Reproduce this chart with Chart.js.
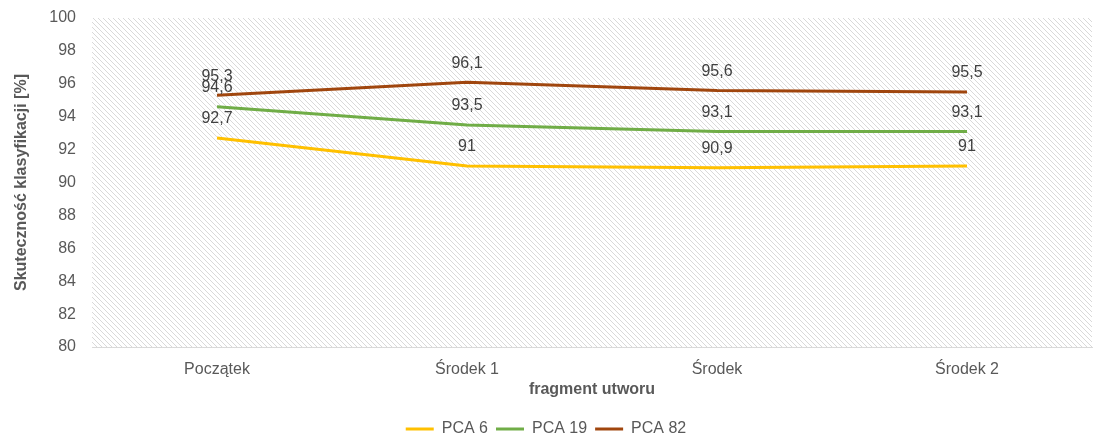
<!DOCTYPE html>
<html>
<head>
<meta charset="utf-8">
<script src="https://cdn.jsdelivr.net/npm/chart.js@4/dist/chart.umd.min.js"></script>
<style>
  html, body { margin: 0; padding: 0; background: #fff; }
  #wrap { width: 1096px; height: 434px; }
</style>
</head>
<body>
<div id="wrap"><canvas id="pcaChart"></canvas></div>
<script>
const fragments = ['Początek', 'Środek 1', 'Środek', 'Środek 2'];
const pca6 = [92.7, 91, 90.9, 91];
const pca19 = [94.6, 93.5, 93.1, 93.1];
const pca82 = [95.3, 96.1, 95.6, 95.5];
const yTicks = [80, 82, 84, 86, 88, 90, 92, 94, 96, 98, 100];

const FONT = '"Liberation Sans", Arial, sans-serif';

// diagonal hatch used as plot background
function makeHatch() {
    const c = document.createElement('canvas');
    c.width = 5; c.height = 5;
    const g = c.getContext('2d');
    g.strokeStyle = '#d9d9d9';
    g.lineWidth = 1;
    g.beginPath();
    g.moveTo(-1, -1); g.lineTo(6, 6);
    g.moveTo(-1, 4); g.lineTo(1, 6);
    g.moveTo(4, -1); g.lineTo(6, 1);
    g.stroke();
    return c;
}

const hatchBg = {
    id: 'hatchBg',
    beforeDatasetsDraw(chart) {
        const { ctx, chartArea: a } = chart;
        ctx.save();
        ctx.fillStyle = ctx.createPattern(makeHatch(), 'repeat');
        ctx.fillRect(a.left, a.top, a.right - a.left, a.bottom - a.top);
        ctx.restore();
    }
};

const valueLabels = {
    id: 'valueLabels',
    afterDatasetsDraw(chart) {
        const ctx = chart.ctx;
        ctx.save();
        ctx.font = '16px ' + FONT;
        ctx.fillStyle = '#404040';
        ctx.textAlign = 'center';
        ctx.textBaseline = 'middle';
        chart.data.datasets.forEach((ds, i) => {
            chart.getDatasetMeta(i).data.forEach((pt, j) => {
                const txt = String(ds.data[j]).replace('.', ',');
                ctx.fillText(txt, pt.x, pt.y - 19);
            });
        });
        ctx.restore();
    }
};

new Chart(document.getElementById('pcaChart'), {
    type: 'line',
    data: {
        labels: fragments,
        datasets: [
            { label: 'PCA 6', data: pca6, borderColor: '#FFC000', backgroundColor: '#FFC000', borderWidth: 3 },
            { label: 'PCA 19', data: pca19, borderColor: '#70AD47', backgroundColor: '#70AD47', borderWidth: 3 },
            { label: 'PCA 82', data: pca82, borderColor: '#A0460E', backgroundColor: '#A0460E', borderWidth: 3 }
        ]
    },
    options: {
        responsive: true,
        maintainAspectRatio: false,
        animation: false,
        elements: {
            line: { borderWidth: 3, tension: 0 },
            point: { radius: 0, hoverRadius: 0 }
        },
        layout: { padding: { top: 18, right: 4, left: 0, bottom: 0 } },
        scales: {
            x: {
                offset: true,
                grid: { display: false, drawTicks: false },
                border: { display: true, color: '#d9d9d9', width: 1 },
                ticks: { color: '#595959', font: { family: FONT, size: 16 }, padding: 13 },
                title: {
                    display: true, text: 'fragment utworu', color: '#595959',
                    font: { family: FONT, size: 16, weight: 'bold' }, padding: { top: 2, bottom: 14 }
                },
                afterFit(s) { s.height = 66; }
            },
            y: {
                min: 80, max: 100,
                afterBuildTicks(s) { s.ticks = yTicks.map(v => ({ value: v })); },
                grid: { display: false, drawTicks: false },
                border: { display: false },
                ticks: { color: '#595959', font: { family: FONT, size: 16 }, padding: 16 },
                title: {
                    display: true, text: 'Skuteczność klasyfikacji [%]', color: '#595959',
                    font: { family: FONT, size: 16, weight: 'bold' }, padding: { top: 12, bottom: 0 }
                },
                afterFit(s) { s.width = 92; s.paddingTop = 0; s.paddingBottom = 0; }
            }
        },
        plugins: {
            legend: {
                position: 'bottom',
                maxHeight: 21,
                labels: {
                    usePointStyle: true,
                    pointStyle: 'line',
                    pointStyleWidth: 28,
                    boxHeight: 16,
                    padding: 8,
                    color: '#595959',
                    font: { family: FONT, size: 16 }
                }
            },
            tooltip: { enabled: false }
        }
    },
    plugins: [hatchBg, valueLabels]
});
</script>
</body>
</html>
